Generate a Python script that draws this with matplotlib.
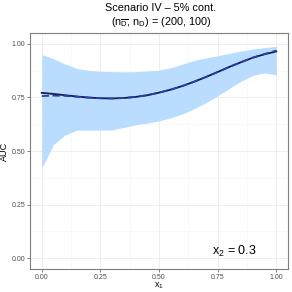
import matplotlib
matplotlib.use("Agg")
import matplotlib.pyplot as plt
from matplotlib.ticker import MultipleLocator

plt.rcParams['font.family'] = ['Liberation Sans', 'DejaVu Sans']
plt.rcParams['mathtext.fontset'] = 'custom'
plt.rcParams['mathtext.rm'] = 'Liberation Sans'
plt.rcParams['mathtext.it'] = 'Liberation Sans'

# values
x1 = [0.00, 0.05, 0.10, 0.15, 0.20, 0.25, 0.30, 0.35, 0.40, 0.45, 0.50,
      0.55, 0.60, 0.65, 0.70, 0.75, 0.80, 0.85, 0.90, 0.95, 1.00]
upper = [0.950, 0.930, 0.905, 0.885, 0.876, 0.872, 0.870, 0.869, 0.870, 0.873, 0.877,
         0.888, 0.905, 0.922, 0.934, 0.944, 0.955, 0.966, 0.975, 0.982, 0.988]
lower = [0.420, 0.530, 0.575, 0.597, 0.597, 0.597, 0.598, 0.610, 0.622, 0.630, 0.640,
         0.655, 0.673, 0.697, 0.725, 0.757, 0.792, 0.825, 0.852, 0.864, 0.855]
auc_true = [0.771, 0.766, 0.760, 0.754, 0.749, 0.746, 0.745, 0.747, 0.752, 0.760, 0.772,
            0.786, 0.803, 0.823, 0.845, 0.868, 0.892, 0.914, 0.935, 0.951, 0.964]
auc_est = [0.756, 0.758, 0.757, 0.753, 0.749, 0.746, 0.745, 0.747, 0.752, 0.760, 0.772,
           0.786, 0.803, 0.823, 0.845, 0.868, 0.892, 0.914, 0.935, 0.952, 0.968]
ticks = [0.00, 0.25, 0.50, 0.75, 1.00]
tick_labels = ["0.00", "0.25", "0.50", "0.75", "1.00"]

fig = plt.figure(figsize=(2.92, 2.92), dpi=100)
ax = fig.add_axes([30 / 292, 23 / 292, 258 / 292, 236 / 292])

ax.fill_between(x1, lower, upper, color='#b9dcff', linewidth=0)
ax.plot(x1, auc_true, color='#1a1a3a', linewidth=1.3)
ax.plot(x1, auc_est, color='#2142b5', linewidth=1.3, linestyle=(0, (4, 2)))

ax.set_xlim(-0.05, 1.05)
ax.set_ylim(-0.05, 1.05)
ax.set_xticks(ticks)
ax.set_xticklabels(tick_labels)
ax.set_yticks(ticks)
ax.set_yticklabels(tick_labels)
ax.xaxis.set_minor_locator(MultipleLocator(0.125))
ax.yaxis.set_minor_locator(MultipleLocator(0.125))
ax.grid(which='major', color='#ebebeb', linewidth=0.6)
ax.grid(which='minor', color='#f5f5f5', linewidth=0.4)
ax.set_axisbelow(True)
ax.tick_params(which='major', labelsize=5, colors='#4d4d4d', length=2, width=0.5, pad=1.5)
ax.tick_params(which='minor', length=0)
for s in ax.spines.values():
    s.set_color('#7f7f7f')
    s.set_linewidth(0.8)

ax.set_xlabel(r"x$_1$", fontsize=6.5, labelpad=0)
ax.set_ylabel("AUC", fontsize=6.5, labelpad=2)
ax.text(0.82, 0.03, r"x$_2$ = 0.3", fontsize=9, ha='center', va='center')

fig.text(0.5 + 15 / 292, 284 / 292, "Scenario IV – 5% cont.", fontsize=7.8,
         ha='center', va='center')
fig.text(0.5 + 15 / 292, 270 / 292, r"(n$_{\overline{\mathrm{D}}}$, n$_{\mathrm{D}}$) = (200, 100)",
         fontsize=7.8, ha='center', va='center')

fig.savefig("out.png", dpi=100)
